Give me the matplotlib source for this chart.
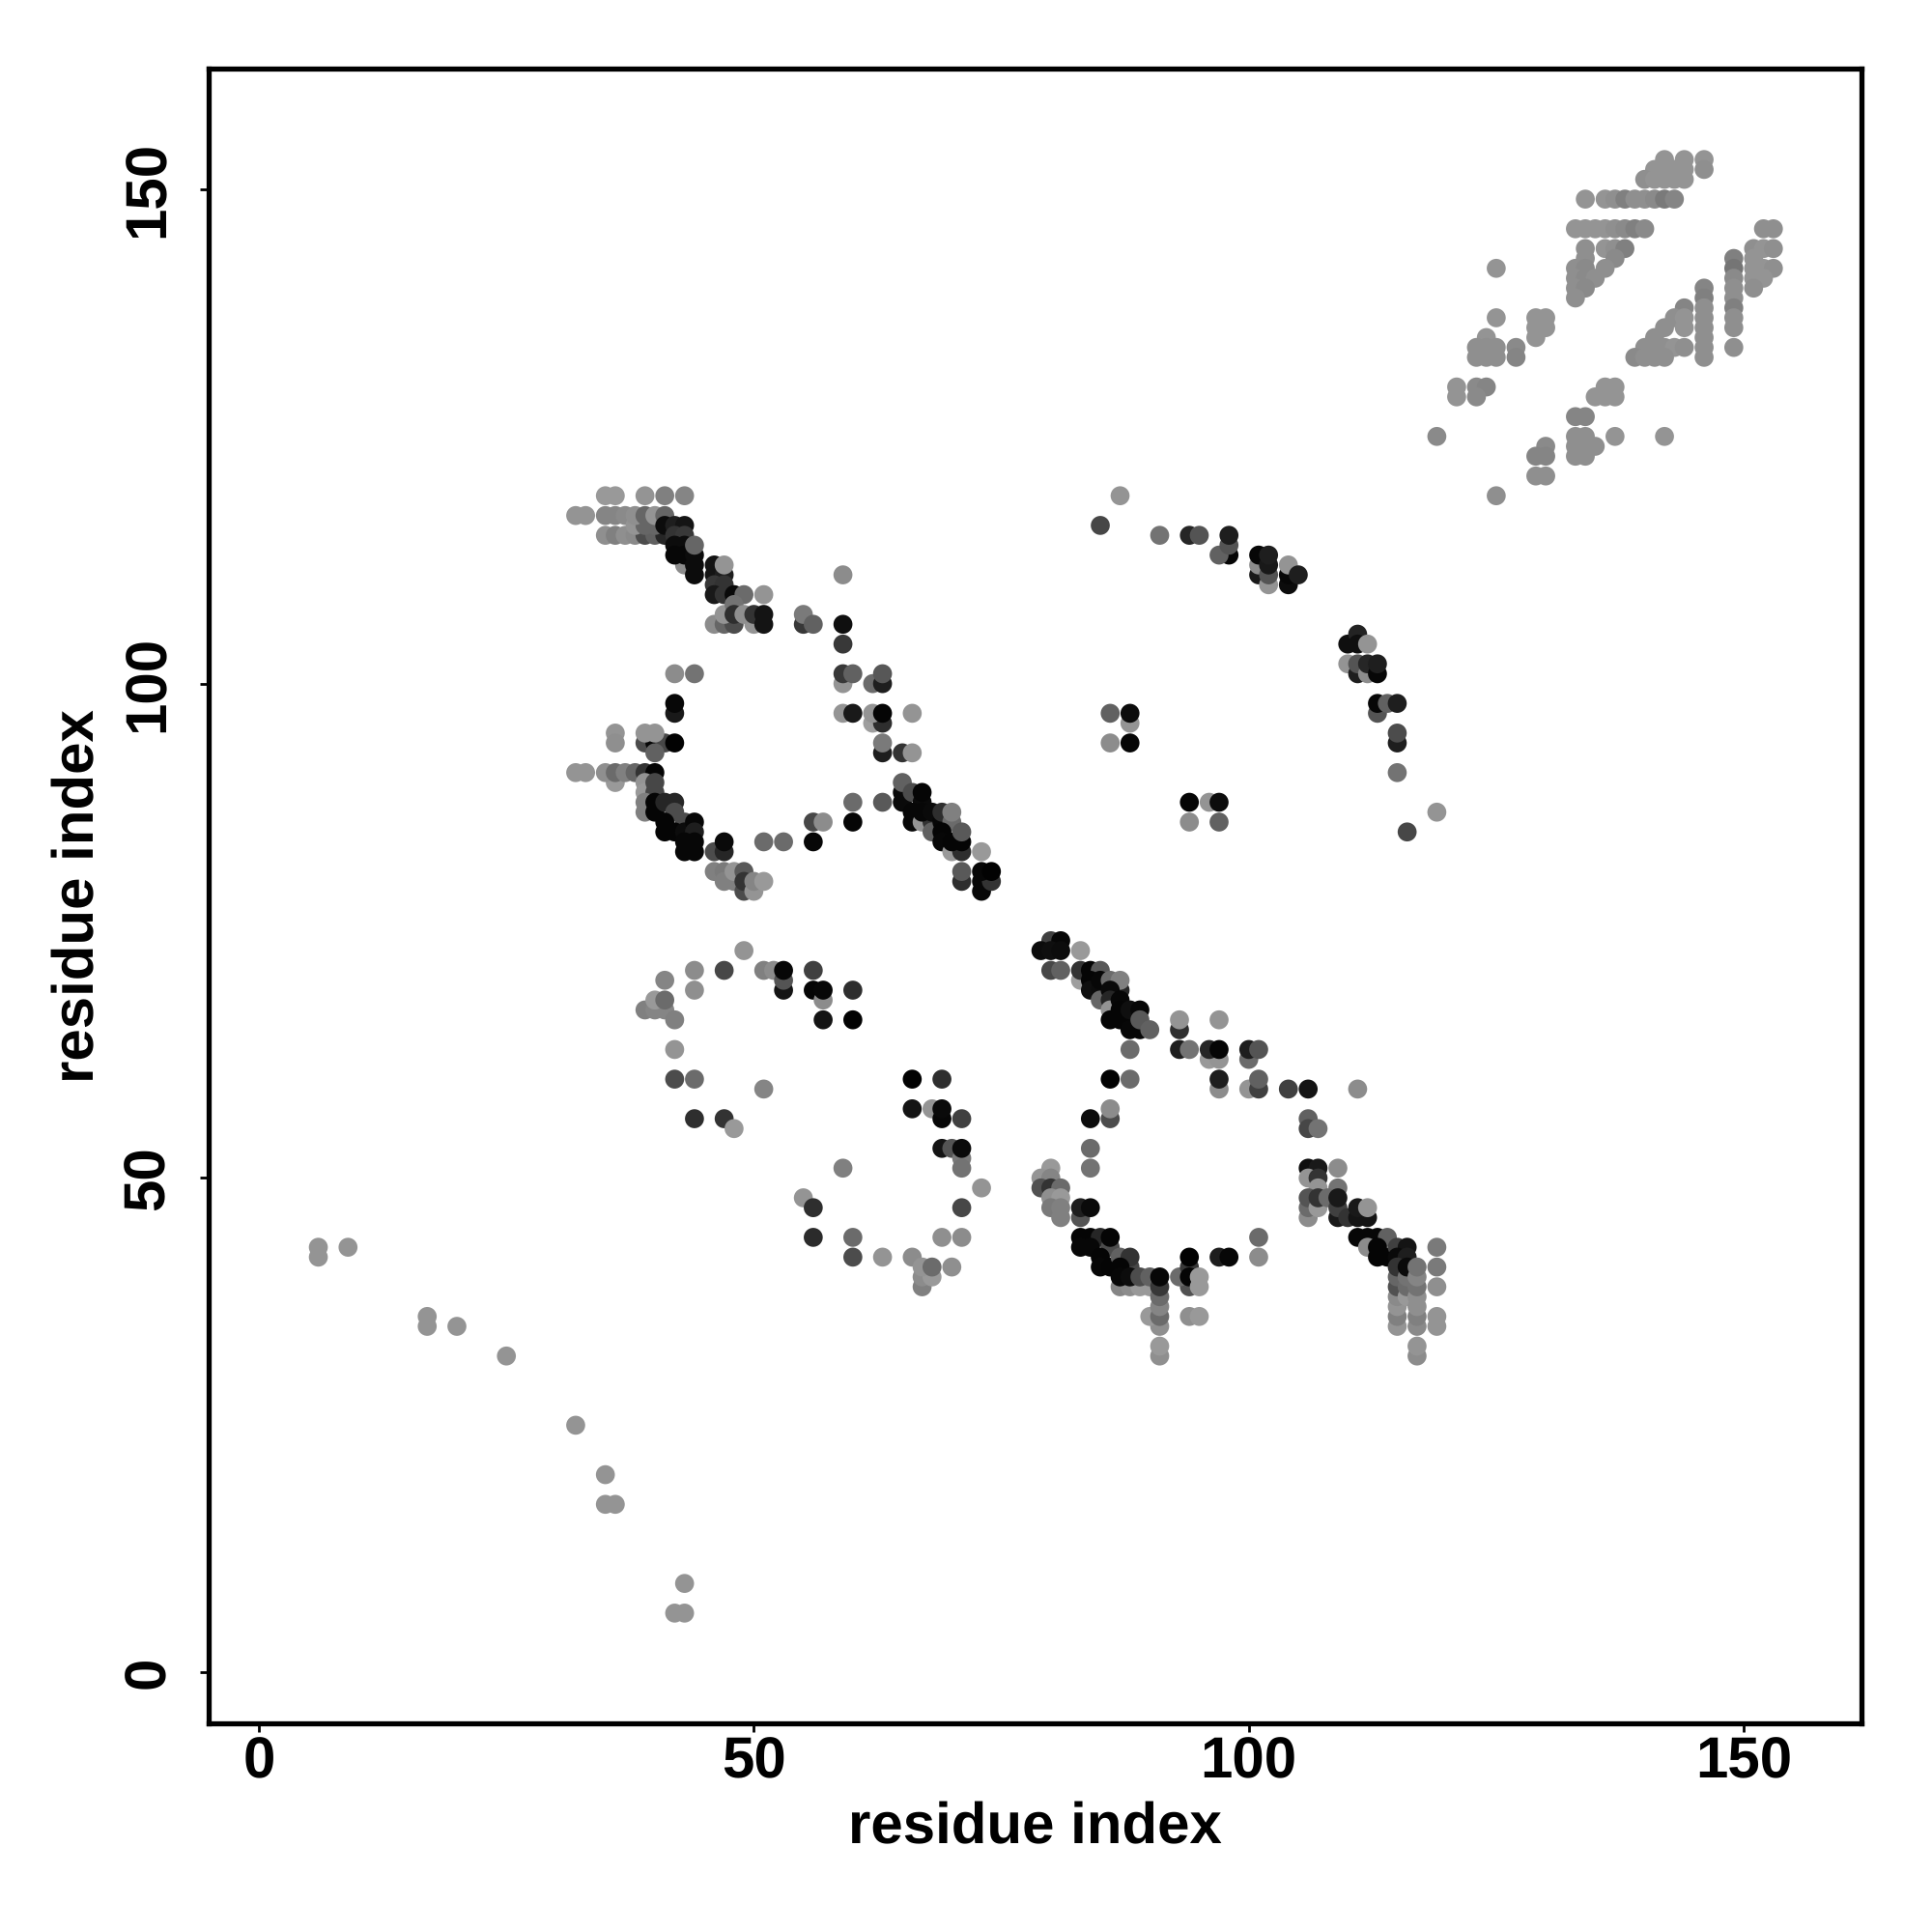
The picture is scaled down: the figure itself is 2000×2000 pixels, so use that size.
import matplotlib
matplotlib.use("Agg")
import matplotlib.pyplot as plt

# (residue i, residue j, grey level), later points sit on top
far_contacts = [
    (6, 43, .58), (6, 42, .58), (9, 43, .58), (17, 36, .58), (17, 35, .58), (20, 35, .58),
    (25, 32, .58), (32, 25, .58), (35, 20, .58), (35, 17, .58), (36, 17, .58),
    (43, 9, .58), (42, 6, .58), (43, 6, .58),
]

upper_right = [
    (142, 153, .58), (144, 153, .58), (146, 153, .58),
    (141, 152, .58), (142, 152, .58), (143, 152, .58), (144, 152, .58), (146, 152, .56),
    (140, 151, .56), (141, 151, .58), (142, 151, .58), (143, 151, .58), (144, 151, .58),
    (134, 149, .58), (136, 149, .58), (137, 149, .56), (138, 149, .5), (139, 149, .56),
    (140, 149, .56), (141, 149, .54), (142, 149, .48), (143, 149, .52),
    (133, 146, .58), (134, 146, .58), (135, 146, .58), (136, 146, .58), (137, 146, .56),
    (138, 146, .54), (139, 146, .5), (140, 146, .54),
    (134, 144, .56), (136, 144, .58), (137, 144, .56), (138, 144, .5), (134, 143, .56), (137, 143, .54),
    (133, 142, .56), (134, 142, .54), (136, 142, .56), (133, 141, .56), (134, 141, .54), (135, 141, .56),
    (133, 140, .56), (134, 140, .54), (133, 139, .56),
    (152, 146, .56), (153, 146, .56), (151, 144, .56), (152, 144, .58), (153, 144, .56),
    (151, 143, .58), (151, 142, .58), (152, 142, .58), (153, 142, .56), (151, 141, .58), (152, 141, .58),
    (151, 140, .56),
    (149, 143, .5), (149, 142, .46), (149, 141, .54), (149, 140, .56), (149, 139, .56), (149, 138, .5),
    (149, 137, .56), (149, 136, .56), (149, 134, .56),
    (146, 140, .52), (146, 139, .5), (146, 138, .56), (146, 137, .56), (146, 136, .56), (146, 135, .56),
    (146, 134, .56), (146, 133, .56),
    (144, 138, .52), (143, 137, .56), (144, 137, .58), (142, 136, .56), (144, 136, .58), (141, 135, .56),
    (140, 134, .56), (141, 134, .56), (142, 134, .56), (143, 134, .58), (144, 134, .56),
    (139, 133, .54), (140, 133, .56), (141, 133, .56), (142, 133, .56),
    (125, 142, .58), (125, 137, .58), (129, 137, .58), (130, 137, .58), (129, 136, .58), (130, 136, .58),
    (129, 135, .58), (124, 135, .58), (123, 134, .56), (124, 134, .56), (125, 134, .56),
    (123, 133, .56), (124, 133, .56), (125, 133, .56), (127, 134, .54), (127, 133, .52),
    (121, 130, .58), (123, 130, .54), (124, 130, .52), (121, 129, .58), (123, 129, .54),
    (136, 130, .58), (137, 130, .58), (135, 129, .58), (136, 129, .58), (137, 129, .58),
    (133, 127, .52), (134, 127, .52), (119, 125, .54), (133, 125, .56), (134, 125, .56),
    (137, 125, .58), (142, 125, .58), (130, 124, .54), (133, 124, .56), (134, 124, .56), (135, 124, .56),
    (129, 123, .52), (130, 123, .52), (133, 123, .56), (134, 123, .56),
    (129, 121, .56), (130, 121, .56), (125, 119, .56),
]

sheet_117 = [
    (35, 119, .6), (36, 119, .6), (39, 119, .58), (41, 119, .5), (43, 119, .52),
    (32, 117, .58), (33, 117, .58), (35, 115, .56), (36, 115, .5), (37, 115, .56), (38, 115, .54),
    (39, 115, .3), (40, 115, .38), (41, 115, .15), (35, 117, .52), (36, 117, .52), (37, 117, .54),
    (38, 116, .58), (39, 116, .4), (40, 116, .4), (38, 117, .56), (39, 117, .4), (40, 117, .58), (41, 117, .4),
    (41, 116, .05), (42, 116, .12), (43, 116, .08), (42, 115, .2), (43, 115, .22),
    (43, 112, .55), (42, 114, .05), (43, 114, .05), (42, 113, .03), (43, 113, .03), (44, 113, .05),
    (44, 112, .05), (44, 111, .05), (44, 114, .4),
    (46, 112, .08), (46, 111, .08), (47, 111, .12), (47, 112, .58), (46, 110, .22), (47, 110, .2),
    (46, 109, .1), (47, 109, .2), (48, 109, .04), (49, 109, .42), (51, 109, .58),
    (46, 106, .55), (47, 106, .4), (48, 106, .3), (50, 106, .58), (47, 107, .58), (48, 108, .45),
    (48, 107, .18), (49, 107, .56), (50, 107, .2), (51, 107, .08), (51, 106, .08),
    (55, 106, .22), (55, 107, .48), (56, 106, .38),
    (59, 111, .55), (59, 106, .06), (59, 104, .22), (59, 100, .58), (59, 101, .22), (60, 101, .38),
    (59, 97, .58), (60, 97, .1), (42, 101, .55), (44, 101, .45), (42, 97, .1), (42, 98, .03),
    (62, 100, .42), (63, 100, .12), (63, 101, .34), (62, 96, .62), (63, 96, .18), (62, 97, .58), (63, 97, .02),
    (66, 97, .58), (63, 93, .12), (63, 94, .48), (65, 93, .2), (66, 93, .58),
    (36, 95, .58), (36, 94, .56), (39, 94, .3), (40, 94, .03), (41, 94, .28), (42, 94, .01),
    (39, 95, .58), (40, 95, .58), (40, 93, .38),
]

sheet_91 = [
    (32, 91, .58), (33, 91, .58), (36, 90, .6), (35, 91, .56), (36, 91, .42), (37, 91, .5), (38, 91, .4),
    (39, 91, .2), (40, 91, .02), (39, 90, .58), (39, 89, .6), (40, 90, .28), (40, 89, .28),
    (39, 88, .5), (39, 87, .5), (40, 88, .02), (40, 87, .02), (41, 88, .15), (42, 88, .15),
    (42, 87, .3), (43, 86, .3), (41, 86, .02), (41, 85, .02), (42, 85, .02), (43, 85, .05),
    (44, 86, .03), (44, 85, .12), (43, 84, .03), (44, 84, .03), (43, 83, .03), (44, 83, .03),
    (46, 83, .3), (47, 83, .15), (47, 84, .04), (51, 84, .42), (53, 84, .42), (56, 84, .03),
    (56, 86, .28), (57, 86, .55),
    (46, 81, .5), (47, 81, .48), (47, 80, .5), (48, 80, .5), (48, 81, .58), (49, 81, .35),
    (49, 79, .3), (49, 80, .2), (50, 79, .58), (50, 80, .52), (51, 80, .6),
    (60, 88, .42), (60, 86, .02), (63, 88, .35),
    (65, 89, .04), (65, 88, .04), (65, 90, .38), (66, 89, .3), (67, 88, .04), (67, 89, .02), (66, 87, .03),
    (66, 86, .03), (67, 86, .58), (68, 86, .2), (68, 85, .38), (67, 87, .03), (68, 87, .04), (69, 86, .03),
    (69, 87, .18), (70, 86, .42), (70, 87, .5), (69, 85, .02), (69, 84, .03),
    (70, 83, .6), (71, 83, .18), (70, 84, .02), (71, 84, .02), (71, 85, .35), (73, 83, .6),
    (71, 80, .18), (71, 81, .35), (73, 79, .03), (73, 80, .03), (74, 80, .2), (73, 81, .03), (74, 81, .01),
]

upper_mid = [
    (87, 119, .58), (85, 116, .28), (91, 115, .45), (94, 115, .15), (95, 115, .33),
    (98, 113, .02), (97, 113, .38), (98, 114, .33), (98, 115, .12),
    (101, 111, .1), (101, 112, .55), (101, 113, .03), (102, 110, .58), (102, 111, .33), (102, 112, .1), (102, 113, .12),
    (104, 110, .05), (104, 111, .03), (104, 112, .58), (105, 111, .12),
    (110, 104, .06), (111, 105, .14), (111, 104, .06), (112, 104, .58),
    (110, 102, .58), (111, 101, .12), (111, 102, .33), (112, 101, .55), (112, 102, .15),
    (113, 101, .03), (113, 102, .12),
    (113, 97, .33), (113, 98, .03), (114, 98, .38), (115, 98, .12), (115, 94, .12), (115, 95, .3),
    (115, 91, .45), (119, 87, .58), (116, 85, .28),
    (86, 97, .38), (88, 96, .58), (88, 97, .05), (86, 94, .55), (88, 94, .02),
    (94, 88, .02), (96, 88, .58), (97, 88, .05), (94, 86, .55), (97, 86, .38),
]

lower_left = [
    (49, 73, .58), (44, 71, .55), (47, 71, .28), (51, 71, .5), (52, 71, .55), (53, 69, .08), (53, 70, .33), (53, 71, .03),
    (56, 71, .25), (56, 69, .02), (57, 68, .55), (57, 69, .03), (60, 69, .18), (57, 66, .08), (60, 66, .01),
    (41, 70, .52), (44, 69, .56), (39, 67, .5), (40, 67, .52), (41, 67, .52), (40, 68, .6), (41, 68, .42), (42, 66, .5),
    (42, 63, .58), (42, 60, .3), (44, 60, .42), (51, 59, .52), (44, 56, .18), (47, 56, .2), (48, 55, .6),
    (66, 60, .01), (69, 60, .18), (66, 57, .08), (68, 57, .58), (69, 56, .03), (69, 57, .04), (71, 56, .25),
    (69, 53, .08), (70, 53, .33), (71, 52, .48), (71, 51, .45), (71, 53, .04), (73, 49, .58), (71, 47, .28),
    (59, 51, .5), (55, 48, .58), (56, 47, .18), (56, 44, .17), (60, 44, .42), (69, 44, .56), (71, 44, .55),
    (60, 42, .3), (63, 42, .58), (66, 42, .55), (67, 39, .5), (67, 40, .55), (68, 40, .6), (67, 41, .58), (68, 41, .42), (70, 41, .56),
]

helix_74 = [
    (80, 74, .25), (81, 74, .03), (79, 73, .05), (80, 73, .06), (81, 73, .05), (83, 73, .6),
    (80, 71, .28), (81, 71, .38), (83, 70, .62), (83, 71, .2), (84, 71, .02), (85, 71, .35),
    (84, 70, .02), (84, 69, .06), (85, 69, .05), (85, 70, .03), (86, 70, .42), (87, 69, .15), (87, 70, .5),
    (85, 68, .4), (86, 69, .04), (86, 68, .15), (86, 67, .58), (86, 66, .02), (87, 68, .03),
    (87, 67, .02), (87, 66, .02), (88, 66, .02), (88, 67, .06), (88, 65, .03), (89, 65, .03),
    (89, 67, .03), (89, 66, .35), (90, 65, .38),
    (88, 63, .42), (86, 60, .01), (88, 60, .42), (86, 56, .3), (86, 57, .55), (84, 56, .05), (84, 53, .42), (84, 51, .45),
    (93, 65, .18), (93, 66, .58), (93, 63, .12), (94, 63, .45), (96, 62, .6), (97, 62, .58), (96, 63, .15), (97, 63, .02),
    (97, 66, .58), (97, 59, .55), (97, 60, .12),
    (100, 62, .42), (100, 63, .12), (101, 63, .33), (100, 59, .58), (101, 59, .25), (101, 60, .38),
    (104, 59, .25), (106, 59, .08), (111, 59, .55),
]

lower_mid = [
    (80, 51, .6), (79, 50, .58), (80, 50, .52), (79, 49, .32), (80, 49, .2), (81, 49, .42), (80, 48, .56), (81, 48, .6),
    (80, 47, .48), (81, 47, .5), (81, 46, .5), (83, 46, .33), (83, 47, .12), (84, 47, .04),
    (83, 44, .02), (84, 44, .02), (85, 44, .15), (83, 43, .03), (84, 43, .03), (86, 43, .3), (86, 44, .02),
    (85, 42, .02), (85, 41, .03), (86, 41, .02), (87, 42, .38), (88, 41, .28), (88, 42, .2), (87, 41, .02),
    (87, 39, .52), (88, 39, .55), (89, 39, .6), (90, 39, .6), (87, 40, .03), (88, 40, .05), (89, 40, .3), (90, 40, .38),
    (91, 32, .56), (91, 33, .6), (91, 35, .56), (90, 36, .6), (91, 36, .42), (91, 37, .52), (91, 38, .42), (91, 39, .22), (91, 40, .03),
    (94, 39, .32), (93, 40, .42), (94, 41, .22), (94, 40, .02), (94, 42, .01), (95, 39, .6), (95, 40, .6),
    (94, 36, .56), (95, 36, .6), (97, 42, .12), (98, 42, .03), (101, 44, .42), (101, 42, .55),
]

helix_46 = [
    (106, 56, .38), (106, 55, .28), (107, 55, .45), (106, 51, .06), (107, 51, .1), (109, 51, .55),
    (106, 50, .58), (107, 50, .2), (107, 49, .58), (109, 49, .45),
    (106, 46, .55), (106, 47, .42), (106, 48, .33), (107, 47, .6), (107, 48, .2), (108, 48, .42),
    (109, 46, .1), (109, 47, .25), (109, 48, .1), (110, 46, .2),
    (111, 46, .08), (112, 46, .08), (111, 47, .1), (112, 47, .58),
    (111, 44, .03), (112, 44, .03), (113, 44, .03), (114, 44, .38), (112, 43, .55), (113, 43, .02),
    (113, 42, .02), (114, 42, .02), (115, 43, .25), (116, 43, .08), (115, 42, .04), (116, 42, .12),
    (115, 35, .58), (115, 36, .5), (115, 37, .58), (115, 38, .54), (115, 39, .32), (115, 40, .4), (115, 41, .2),
    (116, 38, .6), (116, 39, .42), (116, 40, .45), (116, 41, .04),
    (117, 32, .55), (117, 33, .58), (117, 35, .54), (117, 36, .5), (117, 37, .56), (117, 38, .56), (117, 39, .45), (117, 40, .52), (117, 41, .45),
    (119, 43, .48), (119, 41, .48), (119, 39, .56), (119, 35, .58), (119, 36, .58),
]

clusters = [far_contacts, upper_right, sheet_117, sheet_91, upper_mid, lower_left, helix_74, lower_mid, helix_46]
x_ticks = [0, 50, 100, 150]
y_ticks = [0, 50, 100, 150]

plt.rcParams['font.family'] = ['Liberation Sans', 'DejaVu Sans']
plt.rcParams['font.weight'] = 'bold'
plt.rcParams['text.hinting'] = 'no_hinting'
plt.rcParams['text.hinting_factor'] = 1

fig = plt.figure(figsize=(10, 10), dpi=200)
ax = fig.add_axes([216 / 2000, 1 - 1783.5 / 2000, 1711 / 2000, 1712.5 / 2000])

for points in clusters:
    xs, ys, levels = zip(*points)
    ax.scatter(xs, ys, c=levels, cmap='gray', vmin=0, vmax=1, s=50, linewidths=0, zorder=3)

ax.set_xlim(-5.08, 161.9)
ax.set_ylim(-5.1, 162.2)
ax.set_xticks(x_ticks)
ax.set_yticks(y_ticks)
ax.tick_params(length=3.2, width=1, labelsize=21.5)
ax.tick_params(axis='x', pad=1.5)
ax.tick_params(axis='y', pad=9)
plt.setp(ax.get_yticklabels(), rotation=90, va='center')
for spine in ax.spines.values():
    spine.set_linewidth(1.9)

ax.set_xlabel('residue index', fontsize=21.5, fontweight='bold', labelpad=4.5)
ax.set_ylabel('residue index', fontsize=21.5, fontweight='bold', labelpad=6)

fig.savefig('out.png', dpi=200)
